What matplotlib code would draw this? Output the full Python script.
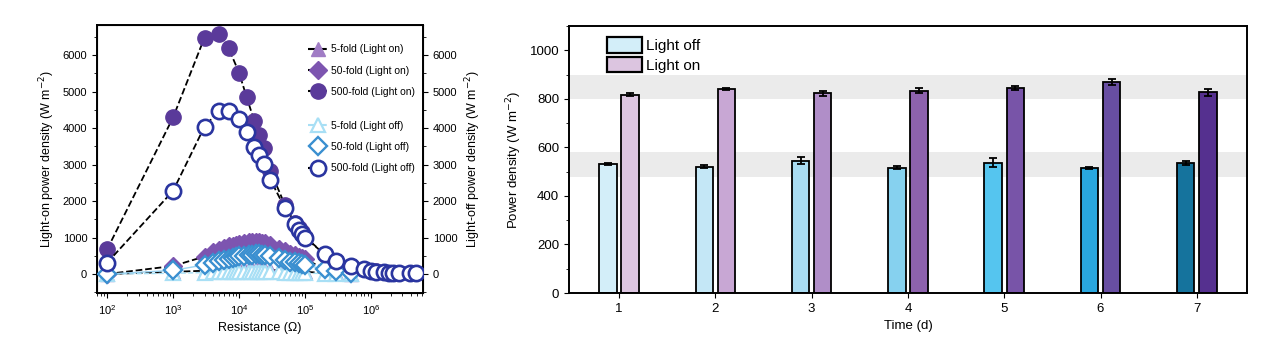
import numpy as np
import matplotlib
matplotlib.use('Agg')
import matplotlib.pyplot as plt
from matplotlib.lines import Line2D
from matplotlib.patches import Patch

# ---- du lieu panel trai ----
R500 = [100, 1000, 3000, 5000, 7000, 10000, 13000, 17000, 20000, 24000, 30000, 50000,
        70000, 80000, 90000, 100000, 200000, 300000, 500000, 800000, 1e6, 1.2e6,
        1.6e6, 1.9e6, 2.2e6, 2.7e6, 3.9e6, 4.9e6]
on500 = [676, 4290, 6480, 6580, 6180, 5520, 4860, 4200, 3800, 3450, 2830, 1880,
         1400, 1260, 1140, 1020, 540, 370, 220, 130, 95, 70, 50, 40, 35, 30, 25, 20]
off500 = [310, 2280, 4040, 4480, 4480, 4240, 3900, 3490, 3250, 3010, 2580, 1800,
          1370, 1220, 1110, 1000, 540, 360, 220, 125, 90, 65, 45, 38, 32, 28, 22, 18]

R50 = [100, 1000, 3000, 4000, 5000, 6000, 7000, 8000, 9000, 10000, 12000, 14000,
       16000, 18000, 20000, 22000, 25000, 30000, 40000, 50000, 60000, 70000, 80000,
       90000, 100000, 200000, 300000, 500000]
on50 = [0, 220, 480, 600, 650, 700, 760, 780, 800, 830, 860, 870, 880, 880, 870,
        860, 840, 800, 680, 620, 560, 520, 480, 440, 400, 150, 100, 50]
off50 = [0, 100, 250, 300, 350, 380, 400, 440, 470, 490, 500, 520, 530, 540, 540,
         530, 520, 500, 430, 380, 340, 320, 300, 280, 250, 130, 80, 40]
on5 = [0, 60, 90, 100, 110, 115, 120, 125, 125, 130, 130, 130, 130, 130, 125,
       120, 115, 110, 100, 90, 80, 75, 70, 65, 60, 30, 20, 10]
off5 = [0, 20, 40, 45, 50, 50, 55, 55, 55, 60, 60, 60, 60, 60, 60,
        55, 55, 50, 45, 40, 35, 32, 30, 28, 25, 12, 8, 4]

# ---- du lieu panel phai ----
days = [1, 2, 3, 4, 5, 6, 7]
light_off = [532, 521, 546, 516, 537, 516, 536]
light_off_err = [5, 5, 15, 6, 18, 4, 8]
light_on = [817, 841, 824, 834, 844, 870, 828]
light_on_err = [6, 5, 10, 10, 8, 14, 15]
off_colors = ['#d3eef9', '#c4e7f6', '#a9dcf2', '#86d1ef', '#55c5ef', '#29a7df', '#15739d']
on_colors = ['#dcc5e0', '#c8a7d4', '#b08ec8', '#8d62ad', '#7854a8', '#684ea2', '#55308f']

plt.rcParams['font.family'] = ['Liberation Sans', 'DejaVu Sans']
plt.rcParams['font.size'] = 8

fig = plt.figure(figsize=(12.84, 3.52), dpi=100)

# ===== panel trai =====
ax = fig.add_axes([0.0755, 0.1676, 0.254, 0.761])
ax2 = ax.twinx()
ms = 10
ax.plot(R50, on5, '--', color='k', lw=1.3, marker='^', ms=ms, mfc='#a07cc5', mec='#a07cc5', zorder=3)
ax.plot(R50, on50, '--', color='k', lw=1.3, marker='D', ms=ms - 1, mfc='#7d55b0', mec='#7d55b0', zorder=3)
ax.plot(R500, on500, '--', color='k', lw=1.3, marker='o', ms=ms + 1, mfc='#5a3a9a', mec='#5a3a9a', zorder=3)
ax2.plot(R50, off5, '--', color='#a8dff5', lw=1.0, marker='^', ms=ms, mfc='white', mec='#a8dff5', mew=1.6, zorder=3)
ax2.plot(R50, off50, '-', color='#9ad2f0', lw=1.0, marker='D', ms=ms - 1, mfc='white', mec='#3a8fd0', mew=1.7, zorder=3)
ax2.plot(R500, off500, '--', color='k', lw=1.3, marker='o', ms=ms + 1, mfc='white', mec='#2a35a0', mew=1.9, zorder=4)

for a in (ax, ax2):
    a.set_xscale('log')
    a.set_xlim(70, 6.2e6)
    a.set_ylim(-520, 6820)
    a.set_yticks(range(0, 6001, 1000))
    a.set_yticks(range(-500, 6801, 500), minor=True)
    a.tick_params(labelsize=8)
ax.set_xlabel('Resistance (Ω)', fontsize=9)
ax.set_ylabel('Light-on power density (W m$^{-2}$)', fontsize=9)
ax2.set_ylabel('Light-off power density (W m$^{-2}$)', fontsize=9)
for s in ax2.spines.values():
    s.set_linewidth(1.4)

h_on = [Line2D([], [], ls='--', color='k', marker='^', ms=ms, mfc='#a07cc5', mec='#a07cc5'),
        Line2D([], [], ls='--', color='k', marker='D', ms=ms - 1, mfc='#7d55b0', mec='#7d55b0'),
        Line2D([], [], ls='--', color='k', marker='o', ms=ms + 1, mfc='#5a3a9a', mec='#5a3a9a')]
h_off = [Line2D([], [], ls='--', color='#a8dff5', marker='^', ms=ms, mfc='white', mec='#a8dff5', mew=1.6),
         Line2D([], [], ls=':', color='#9ad2f0', marker='D', ms=ms - 1, mfc='white', mec='#3a8fd0', mew=1.7),
         Line2D([], [], ls='--', color='k', marker='o', ms=ms + 1, mfc='white', mec='#2a35a0', mew=1.9)]
kw = dict(frameon=False, fontsize=7.5, handlelength=2.0, labelspacing=1.1,
          borderaxespad=0.4, handletextpad=0.2, loc='upper right')
leg1 = ax2.legend(h_on, ['5-fold (Light on)', '50-fold (Light on)', '500-fold (Light on)'],
                  bbox_to_anchor=(1.0, 0.96), **kw)
ax2.add_artist(leg1)
ax2.legend(h_off, ['5-fold (Light off)', '50-fold (Light off)', '500-fold (Light off)'],
           bbox_to_anchor=(1.0, 0.675), **kw)

# ===== panel phai =====
bx = fig.add_axes([0.4431, 0.1676, 0.528, 0.758])
x = np.array(days)
w = 0.18
bx.axhspan(480, 580, color='#ebebeb', zorder=0, lw=0)
bx.axhspan(800, 900, color='#ebebeb', zorder=0, lw=0)
bx.bar(x - 0.115, light_off, w, color=off_colors, edgecolor='k', lw=1.3, zorder=2)
bx.bar(x + 0.115, light_on, w, color=on_colors, edgecolor='k', lw=1.3, zorder=2)
bx.errorbar(x - 0.115, light_off, yerr=light_off_err, fmt='none', ecolor='k', capsize=3, lw=1.3, capthick=1.3, zorder=3)
bx.errorbar(x + 0.115, light_on, yerr=light_on_err, fmt='none', ecolor='k', capsize=3, lw=1.3, capthick=1.3, zorder=3)
bx.set_xlim(0.48, 7.52)
bx.set_ylim(0, 1100)
bx.set_xticks(days)
bx.set_yticks(range(0, 1001, 200))
bx.set_yticks(range(0, 1101, 100), minor=True)
bx.tick_params(labelsize=9.5)
bx.set_xlabel('Time (d)', fontsize=9.5)
bx.set_ylabel('Power density (W m$^{-2}$)', fontsize=9.5)
for s in bx.spines.values():
    s.set_linewidth(1.4)
hb = [Patch(facecolor='#d3eef9', edgecolor='k', lw=1.6),
      Patch(facecolor='#dcc5e0', edgecolor='k', lw=1.6)]
bx.legend(hb, ['Light off', 'Light on'], loc='upper left', frameon=False, fontsize=11,
          handlelength=2.3, handleheight=1.2, labelspacing=0.25, handletextpad=0.25,
          borderaxespad=0.3, bbox_to_anchor=(0.04, 1.0))

fig.savefig('out.png', dpi=100)
